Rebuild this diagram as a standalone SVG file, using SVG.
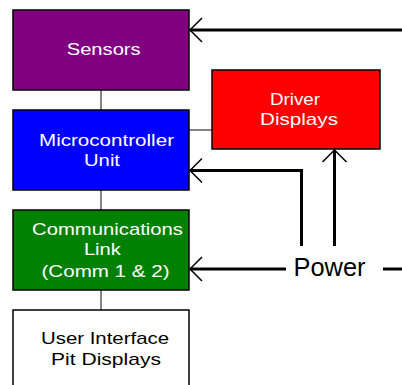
<svg xmlns="http://www.w3.org/2000/svg" width="402" height="385" viewBox="0 0 402 385">
<defs>
<style>
.box{stroke:#000;stroke-width:1.5}
.t{font-family:"Liberation Sans",Arial,sans-serif;font-size:17px;fill:#fff;text-anchor:middle}
.tk{fill:#000}
.thin{stroke:#333;stroke-width:1.2;fill:none}
.thick{stroke:#000;stroke-width:3;fill:none}
.head{stroke:#000;stroke-width:1.5;fill:none}
</style>
</defs>
<rect width="402" height="385" fill="#fff"/>
<g id="connectors">
<line class="thin" x1="101" y1="90" x2="101" y2="110"/>
<line class="thin" x1="101" y1="190" x2="101" y2="210"/>
<line class="thin" x1="101" y1="290" x2="101" y2="310"/>
<line class="thin" x1="189" y1="130" x2="212" y2="130"/>
<line class="thick" x1="402" y1="30" x2="190" y2="30"/>
<polyline class="head" points="202,18 190,30 202,42"/>
<polyline class="thick" points="301.5,246 301.5,170.5 190,170.5"/>
<polyline class="head" points="202,158.5 190,170.5 202,182.5"/>
<line class="thick" x1="334.5" y1="246" x2="334.5" y2="150"/>
<polyline class="head" points="322.5,162 334.5,150 346.5,162"/>
<line class="thick" x1="286" y1="269" x2="190" y2="269"/>
<polyline class="head" points="202,257 190,269 202,281"/>
<line class="thick" x1="383" y1="269" x2="402" y2="269"/>
</g>
<g id="sensors">
<rect class="box" x="13" y="10" width="176" height="80" fill="#800080"/>
<text class="t" x="103.7" y="55" textLength="74" lengthAdjust="spacingAndGlyphs">Sensors</text>
</g>
<g id="micro">
<rect class="box" x="13" y="110" width="176" height="80" fill="#0000ff"/>
<text class="t" x="106.5" y="145.7" textLength="135" lengthAdjust="spacingAndGlyphs">Microcontroller</text>
<text class="t" x="102" y="165.7" textLength="36" lengthAdjust="spacingAndGlyphs">Unit</text>
</g>
<g id="driver">
<rect class="box" x="212" y="70" width="168" height="79" fill="#ff0000"/>
<text class="t" x="295" y="105" textLength="50" lengthAdjust="spacingAndGlyphs">Driver</text>
<text class="t" x="299" y="125" textLength="78" lengthAdjust="spacingAndGlyphs">Displays</text>
</g>
<g id="comms">
<rect class="box" x="13" y="210" width="176" height="80" fill="#008000"/>
<text class="t" x="107.5" y="235" textLength="151" lengthAdjust="spacingAndGlyphs">Communications</text>
<text class="t" x="102.4" y="254.5" textLength="37" lengthAdjust="spacingAndGlyphs">Link</text>
<text class="t" x="105.5" y="276.5" textLength="128" lengthAdjust="spacingAndGlyphs">(Comm 1 &amp; 2)</text>
</g>
<g id="ui">
<rect class="box" x="13" y="310" width="176" height="80" fill="#fff"/>
<text class="t tk" x="105" y="344.3" textLength="128" lengthAdjust="spacingAndGlyphs">User Interface</text>
<text class="t tk" x="106" y="365" textLength="110" lengthAdjust="spacingAndGlyphs">Pit Displays</text>
</g>
<g id="power">
<text x="329.5" y="276" font-family="'Liberation Sans',Arial,sans-serif" font-size="26" text-anchor="middle" textLength="72" lengthAdjust="spacingAndGlyphs" fill="#000">Power</text>
</g>
</svg>
